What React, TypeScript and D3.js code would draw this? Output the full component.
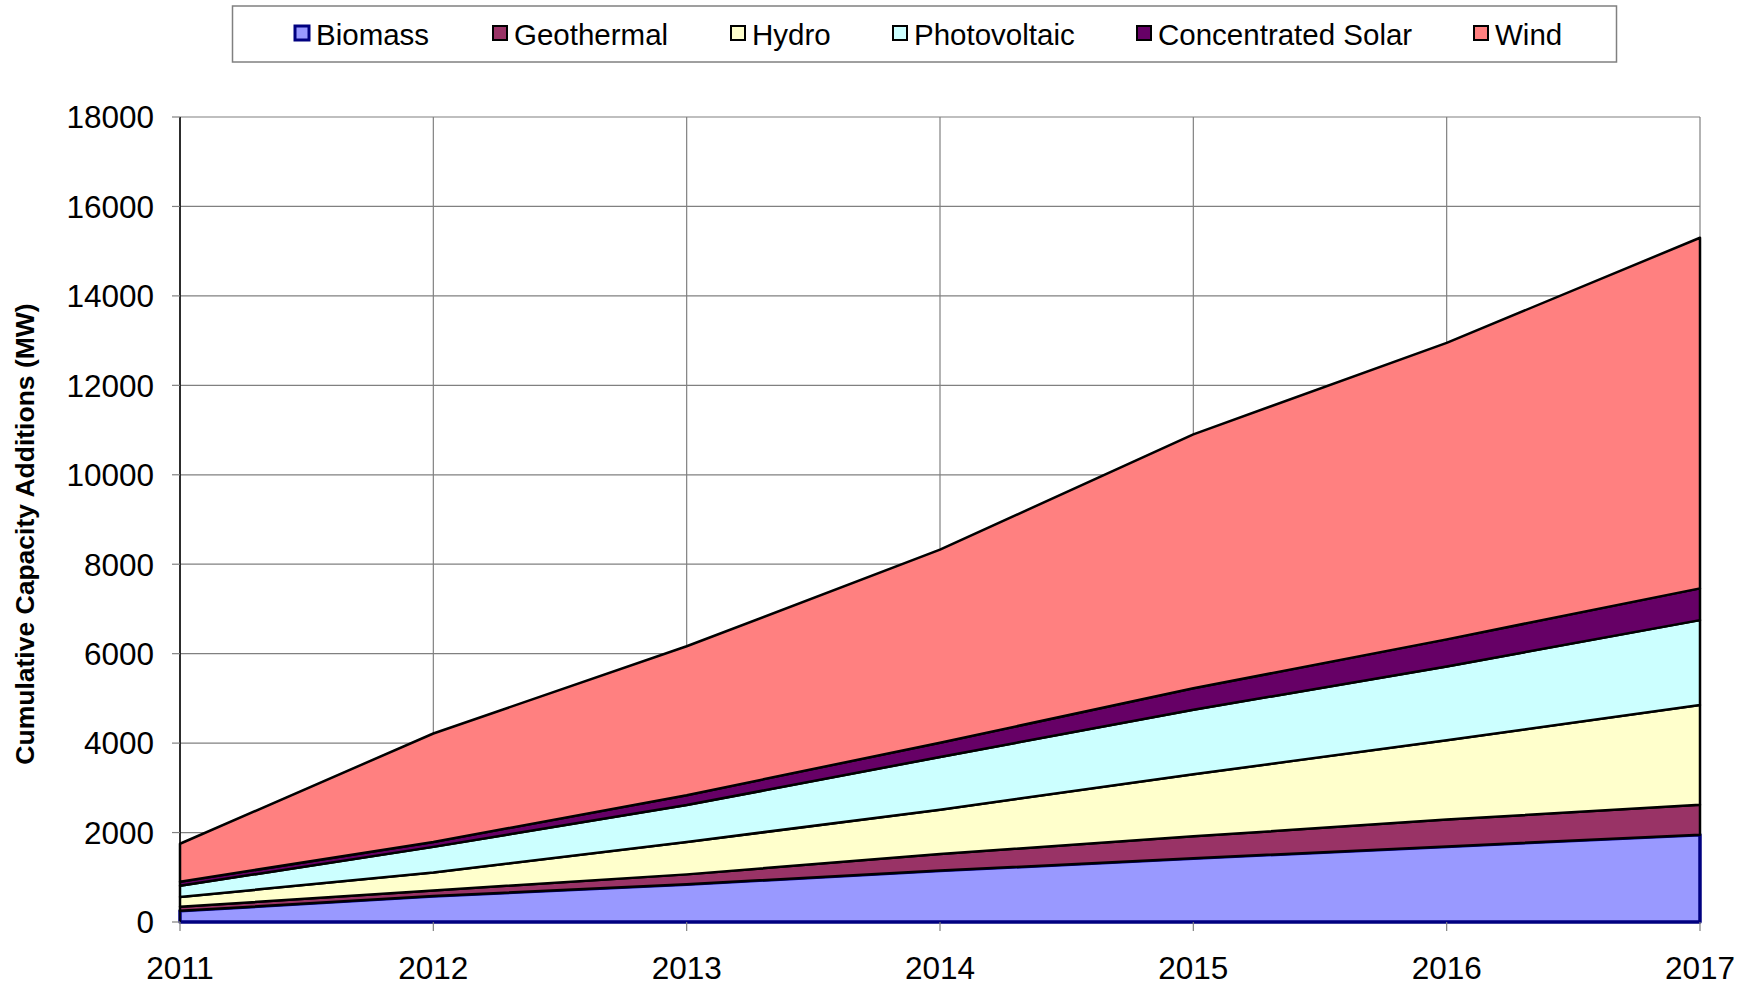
import * as d3 from 'd3'

const W = 1754, H = 986
const M = { left: 180, right: 1700, top: 117, bottom: 922 }

const years = [2011, 2012, 2013, 2014, 2015, 2016, 2017]
const seriesNames = ['Biomass', 'Geothermal', 'Hydro', 'Photovoltaic', 'Concentrated Solar', 'Wind']
const biomass = [250, 580, 845, 1150, 1425, 1690, 1950]
const geothermal = [90, 125, 220, 370, 490, 600, 670]
const hydro = [220, 400, 725, 990, 1390, 1775, 2230]
const photovoltaic = [250, 575, 825, 1180, 1440, 1650, 1900]
const concentratedSolar = [90, 110, 220, 320, 480, 605, 710]
const wind = [850, 2425, 3330, 4315, 5680, 6630, 7840]
const yTicks = [0, 2000, 4000, 6000, 8000, 10000, 12000, 14000, 16000, 18000]

const FILLS = ['#9999ff', '#993366', '#ffffcc', '#ccffff', '#660066', '#ff8080']
const STROKES = ['#000080', '#000', '#000', '#000', '#000', '#000']
const LEGEND_X = [295, 493, 731, 893, 1137, 1474]

const FONT = '"Liberation Sans", Arial, sans-serif'

export default function App() {
  const x = d3.scaleLinear([2011, 2017], [M.left, M.right])
  const y = d3.scaleLinear([0, 18000], [M.bottom, M.top])

  const rows = years.map((yr, i) => ({
    year: yr,
    Biomass: biomass[i],
    Geothermal: geothermal[i],
    Hydro: hydro[i],
    Photovoltaic: photovoltaic[i],
    'Concentrated Solar': concentratedSolar[i],
    Wind: wind[i],
  }))
  const stacked = d3.stack<any>().keys(seriesNames)(rows)

  const area = d3.area<any>()
    .x((d) => x(d.data.year))
    .y0((d) => y(d[0]))
    .y1((d) => y(d[1]))

  return (
    <svg width={W} height={H} style={{ position: 'absolute', left: 0, top: 0, background: '#fff' }} fontFamily={FONT}>
      {/* grid */}
      {yTicks.map((t) => (
        <line key={'gy' + t} x1={M.left} x2={M.right} y1={y(t)} y2={y(t)} stroke="#808080" strokeWidth={1.2} />
      ))}
      {years.map((yr) => (
        <line key={'gx' + yr} x1={x(yr)} x2={x(yr)} y1={M.top} y2={M.bottom} stroke="#808080" strokeWidth={1.2} />
      ))}

      {/* stacked areas */}
      {stacked.map((s, i) => (
        <path key={s.key} d={area(s) || ''} fill={FILLS[i]} stroke={STROKES[i]}
          strokeWidth={i === 0 ? 3.5 : 2.5} strokeLinejoin="round" />
      ))}

      {/* axes */}
      <line x1={M.left} x2={M.left} y1={M.top} y2={M.bottom} stroke="#000" strokeWidth={1.5} />
      {yTicks.map((t) => (
        <g key={'yt' + t}>
          <line x1={M.left - 8} x2={M.left} y1={y(t)} y2={y(t)} stroke="#808080" strokeWidth={1.2} />
          <text x={154} y={y(t)} dy="0.36em" textAnchor="end" fontSize={31.5} fill="#000">{t}</text>
        </g>
      ))}
      {years.map((yr) => (
        <g key={'xt' + yr}>
          <line x1={x(yr)} x2={x(yr)} y1={M.bottom} y2={M.bottom + 9} stroke="#808080" strokeWidth={1.2} />
          <text x={x(yr)} y={979} textAnchor="middle" fontSize={31.5} fill="#000">{yr}</text>
        </g>
      ))}

      <text transform="translate(34,534) rotate(-90)" textAnchor="middle" fontSize={26.5} fontWeight="bold" fill="#000">
        Cumulative Capacity Additions (MW)
      </text>

      {/* legend */}
      <rect x={232.5} y={6} width={1384} height={56} fill="#fff" stroke="#808080" strokeWidth={1.5} />
      {seriesNames.map((n, i) => (
        <g key={'lg' + n}>
          <rect x={LEGEND_X[i]} y={26} width={14} height={14} fill={FILLS[i]} stroke={STROKES[i]}
            strokeWidth={i === 0 ? 3 : 2} />
          <text x={LEGEND_X[i] + 21} y={45} fontSize={29.5} fill="#000">{n}</text>
        </g>
      ))}
    </svg>
  )
}
